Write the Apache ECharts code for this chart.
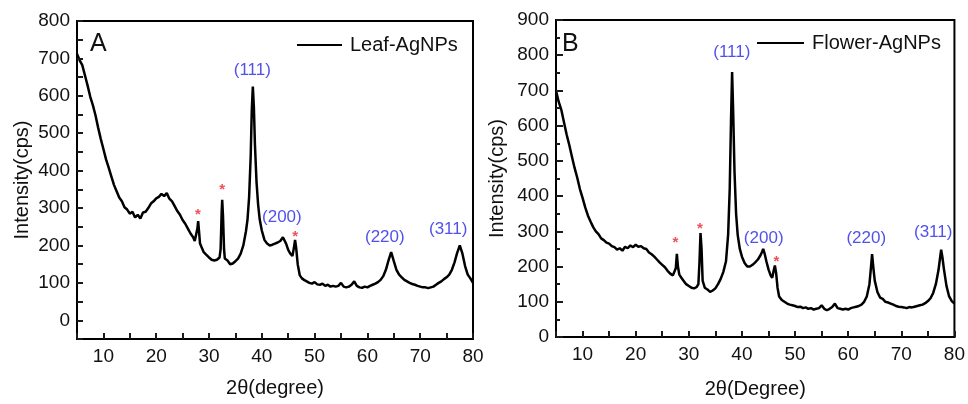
<!DOCTYPE html>
<html><head><meta charset="utf-8">
<script src="https://cdn.jsdelivr.net/npm/echarts@6/dist/echarts.min.js"></script>
<style>html,body{margin:0;padding:0;background:#fff}#c{width:968px;height:404px}</style>
</head><body><div id="c"></div>
<script>
const leafTheta = [5,5.5,6,6.5,7,7.5,8,8.5,9,9.5,10,10.5,11,11.5,12,12.5,13,13.5,14,14.5,15,15.5,16,16.5,17,17.5,18,18.5,19,19.5,20,20.5,21,21.5,22,22.5,23,23.5,24,24.5,25,25.5,26,26.5,27,27.3,27.6,27.8,27.95,28.1,28.3,28.6,29,29.5,30,30.5,31,31.5,32,32.2,32.4,32.5,32.65,32.85,33,33.5,34,34.5,35,35.5,36,36.5,37,37.3,37.6,37.9,38.1,38.3,38.5,38.7,39,39.3,39.6,40,40.5,41,41.5,42,42.5,43,43.5,44,44.3,44.6,45,45.4,45.8,46.1,46.3,46.5,46.8,47.2,47.6,48,48.5,49,49.5,50,50.5,51,51.5,52,52.5,53,53.5,54,54.5,55,55.5,56,56.5,57,57.5,58,58.5,59,59.5,60,60.5,61,61.5,62,62.5,63,63.5,64,64.5,65,65.5,66,66.5,67,67.5,68,68.5,69,69.5,70,70.5,71,71.5,72,72.5,73,73.5,74,74.5,75,75.5,76,76.5,77,77.5,78,78.5,79,79.5,80];
const leafIntensity = [712,695,682,655,628,598,575,548,515,485,458,430,408,385,362,345,328,318,302,296,285,290,275,282,272,288,290,300,312,318,326,330,338,332,340,325,318,305,292,282,268,258,245,232,222,212,215,245,265,240,205,195,182,175,168,162,160,162,168,190,290,322,280,190,165,160,150,152,158,165,178,200,238,270,330,440,560,625,570,470,370,310,270,240,215,205,200,202,205,208,212,222,218,205,188,178,172,195,215,195,150,120,112,108,104,100,98,102,96,95,98,92,95,90,92,90,92,100,90,88,90,95,104,92,88,87,90,88,92,95,98,102,108,118,135,160,182,158,135,122,115,108,104,100,97,95,92,90,88,88,86,88,90,95,100,104,110,115,122,135,155,180,200,178,145,122,112,100];
const flowerTheta = [5,5.5,6,6.5,7,7.5,8,8.5,9,9.5,10,10.5,11,11.5,12,12.5,13,13.5,14,14.5,15,15.5,16,16.5,17,17.5,18,18.5,19,19.5,20,20.5,21,21.5,22,22.5,23,23.5,24,24.5,25,25.5,26,26.5,27,27.3,27.55,27.75,27.95,28.2,28.6,29,29.5,30,30.5,31,31.5,31.8,32,32.2,32.4,32.6,33,33.5,34,34.5,35,35.5,36,36.5,37,37.4,37.7,37.95,38.15,38.35,38.6,38.9,39.2,39.6,40,40.5,41,41.5,42,42.5,43,43.5,43.8,44,44.3,44.6,45,45.4,45.7,46,46.2,46.45,46.7,47,47.5,48,48.5,49,49.5,50,50.5,51,51.5,52,52.5,53,53.5,54,54.5,55,55.5,56,56.5,57,57.5,58,58.5,59,59.5,60,60.5,61,61.5,62,62.5,63,63.5,64,64.3,64.5,64.75,65,65.5,66,66.5,67,67.5,68,68.5,69,69.5,70,70.5,71,71.5,72,72.5,73,73.5,74,74.5,75,75.5,76,76.5,77,77.3,77.5,77.75,78,78.5,79,79.5,80];
const flowerIntensity = [700,668,645,610,575,545,512,480,452,420,395,368,345,328,312,300,292,280,275,268,265,258,255,248,252,245,256,252,260,255,262,256,258,252,250,240,235,228,220,212,205,198,188,180,175,172,195,236,200,178,168,160,150,145,140,138,142,150,210,295,250,160,140,135,128,132,138,150,165,185,215,290,420,620,752,640,470,350,290,250,228,210,200,200,205,212,220,232,242,250,235,215,192,175,168,190,203,180,140,115,105,100,95,92,90,88,85,86,82,84,80,82,78,80,82,90,80,76,80,85,95,82,80,78,80,78,82,84,86,88,92,100,115,150,200,235,195,160,128,112,108,100,98,95,92,88,86,85,84,82,85,84,86,88,90,92,96,102,110,125,150,190,225,248,225,195,145,115,102,95];

const xMajorValues = [10,20,30,40,50,60,70,80];
const leafYMajor = [0,100,200,300,400,500,600,700,800];

const peakNames = ['(111)','(200)','(220)','(311)'];
const leafPeakPos = [[38.2,668],[43.8,276],[63.3,223],[75.3,242]];
const leafStarPos = [[27.9,281],[32.5,348],[46.3,222]];
const flowerPeakPos = [[38.1,808],[44.1,281],[63.4,281],[76.0,297]];
const flowerStarPos = [[27.5,268],[32.1,307],[46.5,212]];

const FONT = '"Liberation Sans", Arial, sans-serif';
const TXT = '#111';
const TICK = '#1a1a1a';

function pairs(xs, ys){ return xs.map((x,i)=>[x, ys[i]]); }
function onlyValues(list){ return v => list.indexOf(Math.round(v)) >= 0 ? String(Math.round(v)) : ''; }

function axisCfg(o){
  const a = {type:'value', gridIndex:o.gi, min:o.min, max:o.max, interval:o.interval,
    name:o.name, nameLocation:'middle', nameGap:o.gap,
    nameTextStyle:{fontSize:20, color:TXT, fontFamily:FONT},
    axisLine:{show:true, onZero:false, lineStyle:{color:'#000', width:2}},
    axisTick:{show:true, inside:true, length:o.tickLen, lineStyle:{color:TICK, width:2}},
    axisLabel:{show:true, fontSize:19, color:TXT, fontFamily:FONT, margin:o.margin, showMinLabel:true, showMaxLabel:true},
    splitLine:{show:false}, z:10};
  if (o.labels) a.axisLabel.formatter = onlyValues(o.labels);
  if (o.minor) a.minorTick = {show:true, splitNumber:2, length:4, lineStyle:{color:TICK, width:2}};
  return a;
}
function annot(xi, yi, pos, names, color, size, weight){
  return {type:'scatter', xAxisIndex:xi, yAxisIndex:yi, symbolSize:0, silent:true,
    data: pos.map((p,i)=>({value:p, name: names ? names[i] : '*'})),
    label:{show:true, position:'inside', formatter:'{b}', color:color, fontSize:size, fontWeight:weight, fontFamily:FONT}};
}

const chart = echarts.init(document.getElementById('c'), null, {renderer:'canvas'});
chart.setOption({
  animation:false,
  backgroundColor:'#fff',
  title:[
    {text:'A', left:85, top:27, padding:5, textStyle:{fontSize:25, fontWeight:'normal', color:TXT, fontFamily:FONT}},
    {text:'B', left:557, top:27, padding:5, textStyle:{fontSize:25, fontWeight:'normal', color:TXT, fontFamily:FONT}}
  ],
  legend:[
    {data:['Leaf-AgNPs'], left:292, top:30, icon:'rect', itemWidth:45, itemHeight:2, itemGap:8,
      textStyle:{fontSize:20, color:TXT, fontFamily:FONT, padding:[0,0,0,3]}},
    {data:['Flower-AgNPs'], left:752, top:28, icon:'rect', itemWidth:47, itemHeight:2, itemGap:8,
      textStyle:{fontSize:20, color:TXT, fontFamily:FONT, padding:[0,0,0,3]}}
  ],
  grid:[
    {left:77, right:495, top:21, bottom:65, show:true, borderColor:'#000', borderWidth:2, backgroundColor:'transparent'},
    {left:556, right:11, top:20, bottom:61, show:true, borderColor:'#000', borderWidth:2, backgroundColor:'transparent'}
  ],
  xAxis:[
    axisCfg({gi:0, min:5, max:80, interval:5, tickLen:6, name:'2θ(degree)', gap:39, margin:8, labels:xMajorValues}),
    axisCfg({gi:1, min:5, max:80, interval:5, tickLen:6, name:'2θ(Degree)', gap:42, margin:8, labels:xMajorValues})
  ],
  yAxis:[
    axisCfg({gi:0, min:-50, max:800, interval:50, tickLen:6, name:'Intensity(cps)', gap:45, margin:7, labels:leafYMajor}),
    axisCfg({gi:1, min:0, max:900, interval:100, tickLen:7, minor:true, name:'Intensity(cps)', gap:49, margin:7, labels:null})
  ],
  series:[
    {name:'Leaf-AgNPs', type:'line', xAxisIndex:0, yAxisIndex:0, data:pairs(leafTheta, leafIntensity),
      symbol:'none', showSymbol:false, lineStyle:{color:'#000', width:2.5}, itemStyle:{color:'#000'}},
    {name:'Flower-AgNPs', type:'line', xAxisIndex:1, yAxisIndex:1, data:pairs(flowerTheta, flowerIntensity),
      symbol:'none', showSymbol:false, lineStyle:{color:'#000', width:2.5}, itemStyle:{color:'#000'}},
    annot(0,0,leafPeakPos,peakNames,'#2424e6',17,'normal'),
    annot(0,0,leafStarPos,null,'#e8242c',15,'bold'),
    annot(1,1,flowerPeakPos,peakNames,'#2424e6',17,'normal'),
    annot(1,1,flowerStarPos,null,'#e8242c',15,'bold')
  ]
});
</script>
</body></html>
